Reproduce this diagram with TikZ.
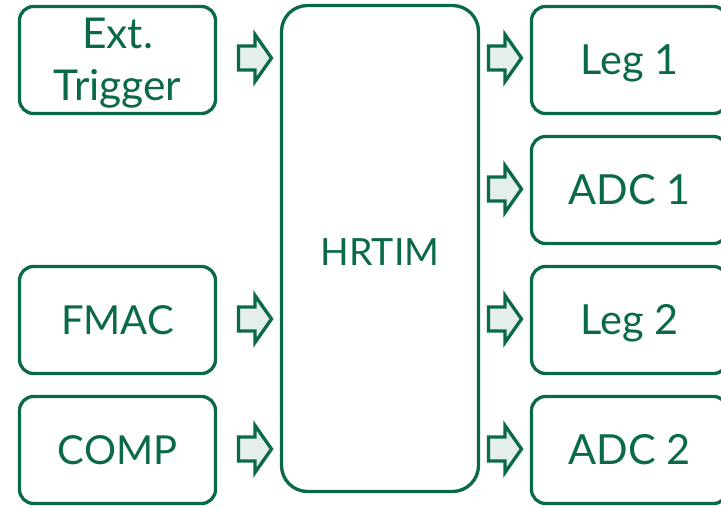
\documentclass[tikz,border=0pt]{standalone}
\usepackage{fontspec}
\setmainfont{Lato}
\definecolor{stgreen}{HTML}{0A6A48}
\definecolor{arrfill}{HTML}{E4EFEA}
\tikzset{
  box/.style={draw=stgreen, line width=3.3pt, rounded corners=14pt, text=stgreen,
    align=center, minimum width=196pt, minimum height=107pt, inner sep=0pt,
    font=\fontsize{40}{52}\selectfont, text height=28.7pt, text depth=0pt},
  outbox/.style={box, font=\fontsize{41.5}{52}\selectfont, text height=29.7pt},
  hub/.style={draw=stgreen, line width=3.3pt, rounded corners=26pt, text=stgreen,
    minimum width=197pt, minimum height=486pt, inner sep=0pt,
    font=\fontsize{37.5}{46}\selectfont, text height=34pt, text depth=0pt},
  pics/barrow/.style={code={
    \draw[draw=stgreen, fill=arrfill, line width=3.3pt, line join=miter]
      (-16.5,-12) -- (0,-12) -- (0,-23.5) -- (16.5,0) -- (0,23.5) -- (0,12) -- (-16.5,12) -- cycle;
  }}
}
\begin{document}
\begin{tikzpicture}[x=1pt,y=-1pt]
\useasboundingbox (0,0) rectangle (721,508);
\node[box, font=\fontsize{42.5}{52}\selectfont, text height=82pt] (ext) at (117.5,60) {Ext.\\Trigger};
\node[box] (fmac) at (117.5,320) {FMAC};
\node[box] (comp) at (117.5,450) {COMP};
\node[hub] (hrtim) at (380,248.5) {HRTIM};
\node[outbox] (leg1) at (629.5,60) {Leg 1};
\node[outbox] (adc1) at (629.5,190) {ADC 1};
\node[outbox] (leg2) at (629.5,320) {Leg 2};
\node[outbox] (adc2) at (629.5,450) {ADC 2};
\pic (a1) at (255,58) {barrow};
\pic (a2) at (255,319) {barrow};
\pic (a3) at (255,449) {barrow};
\pic (b1) at (505,58) {barrow};
\pic (b2) at (505,189) {barrow};
\pic (b3) at (505,319) {barrow};
\pic (b4) at (505,449) {barrow};
\end{tikzpicture}
\end{document}
